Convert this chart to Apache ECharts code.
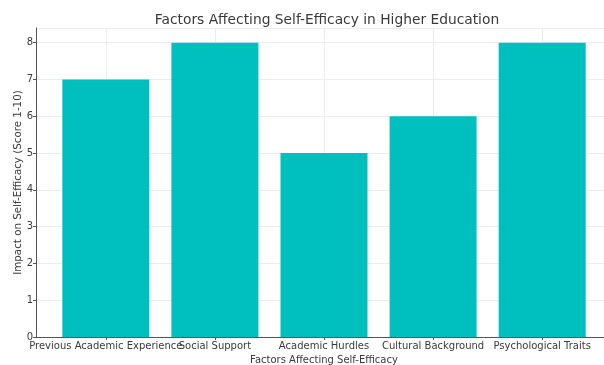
<!DOCTYPE html>
<html>
<head>
<meta charset="utf-8">
<script src="https://cdn.jsdelivr.net/npm/echarts@6/dist/echarts.min.js"></script>
<style>
  html, body { margin: 0; padding: 0; background: #fff; }
  #chart { width: 604px; height: 365px; }
</style>
</head>
<body>
<div id="chart"></div>
<script>
// Factors affecting self-efficacy — simple bar chart, matplotlib-like layout
var categories = ["Previous Academic Experience", "Social Support", "Academic Hurdles",
                  "Cultural Background", "Psychological Traits"];
var scores = [7, 8, 5, 6, 8];
var yTicks = [0, 1, 2, 3, 4, 5, 6, 7, 8];

var FONT = "DejaVu Sans";
var TEXT = "#3a3a3a";
var AXIS = "#555";
var GRID = "#ececec";

var positions = categories.map(function (c, i) { return i; });
// labels overlap in the original; split them over two stacked axes so none get hidden
var evenPos = positions.filter(function (p) { return p % 2 === 0; });
var oddPos = positions.filter(function (p) { return p % 2 === 1; });
var barData = scores.map(function (v, i) { return [i, v]; });

function catLabel(v) { return categories[Math.round(v)] || ""; }

var labelStyle = { margin: 4, hideOverlap: false, fontFamily: FONT, fontSize: 10, color: TEXT, formatter: catLabel };

var chart = echarts.init(document.getElementById("chart"), null, { renderer: "canvas" });
chart.setOption({
  backgroundColor: "#fff",
  animation: false,
  title: {
    text: "Factors Affecting Self-Efficacy in Higher Education",
    left: 322, top: 8, textAlign: "center",
    textStyle: { fontFamily: FONT, fontSize: 13.8, fontWeight: "normal", color: TEXT },
  },
  grid: { left: 36, right: -8, top: 28, bottom: 28, containLabel: false, outerBoundsMode: "none" },
  xAxis: [{
    type: "value", min: -0.64, max: 4.64,
    name: "Factors Affecting Self-Efficacy", nameLocation: "middle", nameGap: 14,
    nameTextStyle: { fontFamily: FONT, fontSize: 10, color: TEXT },
    axisLine: { show: true, onZero: false, lineStyle: { color: AXIS, width: 1 } },
    axisTick: { show: true, length: 3, customValues: positions, lineStyle: { color: AXIS } },
    axisLabel: Object.assign({ customValues: evenPos }, labelStyle),
    splitLine: { show: true, lineStyle: { color: GRID, width: 1 } },
  }, {
    type: "value", min: -0.64, max: 4.64, position: "bottom", offset: 0,
    axisLine: { show: false, onZero: false },
    axisTick: { show: false },
    axisLabel: Object.assign({ customValues: oddPos }, labelStyle),
    splitLine: { show: false },
  }],
  yAxis: {
    type: "value", min: 0, max: 8.4, interval: 1,
    name: "Impact on Self-Efficacy (Score 1-10)", nameLocation: "middle", nameGap: 13,
    nameMoveOverlap: false,
    nameTextStyle: { fontFamily: FONT, fontSize: 10.3, color: TEXT },
    axisLine: { show: true, onZero: false, lineStyle: { color: AXIS, width: 1 } },
    axisTick: { show: true, length: 3, lineStyle: { color: AXIS } },
    axisLabel: {
      margin: 3, fontFamily: FONT, fontSize: 10, color: TEXT, showMaxLabel: false,
      formatter: function (v) { return yTicks.indexOf(v) >= 0 ? String(v) : ""; },
    },
    splitLine: { show: true, lineStyle: { color: GRID, width: 1 } },
  },
  series: [{
    type: "bar",
    xAxisIndex: 0,
    data: barData,
    barWidth: 87,
    itemStyle: { color: "#00bfbf" },
  }],
});
</script>
</body>
</html>
